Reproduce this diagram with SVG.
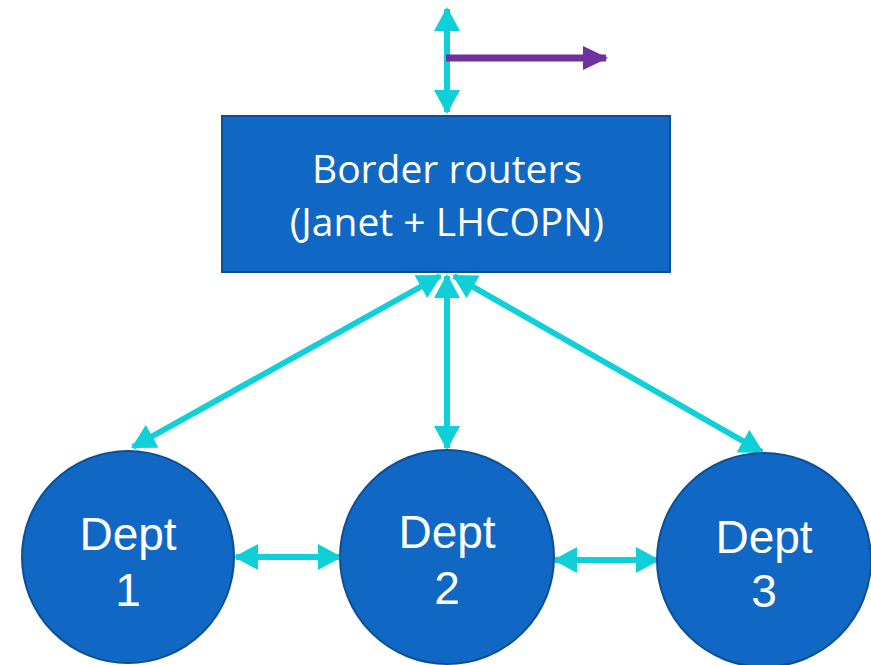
<svg xmlns="http://www.w3.org/2000/svg" width="871" height="665" viewBox="0 0 871 665">
<style>
.box{fill:#1068c4;stroke:#0d4f94;stroke-width:2}
.node{fill:#1068c4;stroke:#0d4f94;stroke-width:2}
.lbl{fill:#ffffff;font-family:"Open Sans","Noto Sans",sans-serif;font-size:39px;text-anchor:middle}
.dlbl{fill:#ffffff;font-family:"Liberation Sans",Arial,sans-serif;font-size:46px;text-anchor:middle}
.c{stroke:#0fcfd8;stroke-width:6;fill:none;marker-start:url(#hc);marker-end:url(#hc)}
.p{stroke:#7030a0;stroke-width:7;fill:none;marker-end:url(#hp)}
</style>
<defs>
<marker id="hc" viewBox="0 0 24 26" refX="22" refY="13" markerWidth="24" markerHeight="26" markerUnits="userSpaceOnUse" orient="auto-start-reverse">
<polygon points="0,0 24,13 0,26" fill="#0fcfd8"/>
</marker>
<marker id="hp" viewBox="0 0 25 24" refX="23" refY="12" markerWidth="25" markerHeight="24" markerUnits="userSpaceOnUse" orient="auto">
<polygon points="0,0 25,12 0,24" fill="#7030a0"/>
</marker>
</defs>
<g id="connectors">
<line class="c" x1="447" y1="9" x2="447" y2="112"/>
<line class="p" x1="446" y1="58" x2="606" y2="58"/>
<line class="c" x1="440" y1="276" x2="133" y2="447"/>
<line class="c" x1="447" y1="276" x2="447" y2="448"/>
<line class="c" x1="454" y1="276" x2="762" y2="452"/>
<line class="c" x1="236" y1="557" x2="340" y2="557"/>
<line class="c" x1="555" y1="560" x2="658" y2="560"/>
</g>
<g id="border">
<rect class="box" x="222" y="116" width="448" height="156"/>
<text class="lbl" x="447" y="183">Border routers</text>
<text class="lbl" x="447" y="236">(Janet + LHCOPN)</text>
</g>
<g id="dept1">
<circle class="node" cx="128" cy="557" r="106"/>
<text class="dlbl" x="128" y="550">Dept</text>
<text class="dlbl" x="128" y="606">1</text>
</g>
<g id="dept2">
<circle class="node" cx="447" cy="557" r="107"/>
<text class="dlbl" x="447" y="548">Dept</text>
<text class="dlbl" x="447" y="604">2</text>
</g>
<g id="dept3">
<circle class="node" cx="764" cy="560" r="107"/>
<text class="dlbl" x="764" y="553">Dept</text>
<text class="dlbl" x="764" y="607">3</text>
</g>
</svg>
